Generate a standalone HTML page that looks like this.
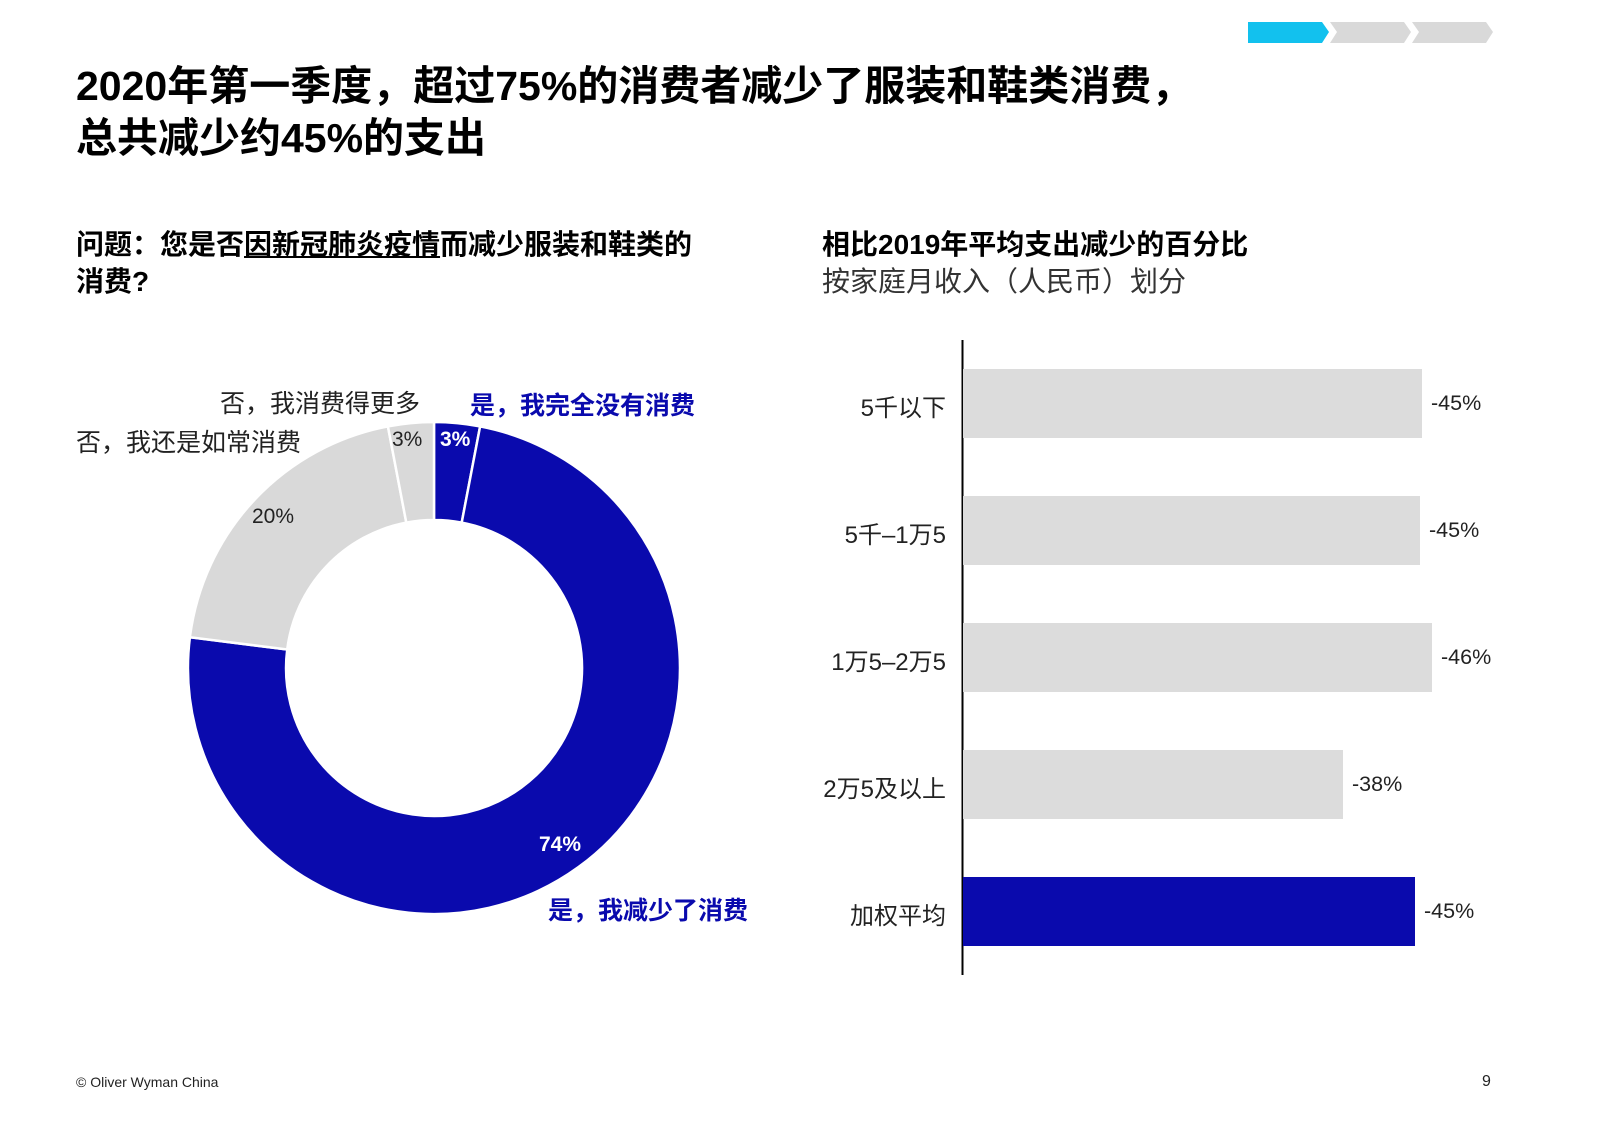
<!DOCTYPE html>
<html><head><meta charset="utf-8"><style>
body{margin:0;width:1600px;height:1143px;background:#fff;position:relative;overflow:hidden;font-family:"Liberation Sans","Noto Sans CJK SC",sans-serif;}
.t{position:absolute;white-space:nowrap;color:#000;}
</style></head><body>
<svg width="1600" height="1143" style="position:absolute;left:0;top:0">
<polygon points="1248,22 1322,22 1329,32 1322,43 1248,43" fill="#12c1ee"/>
<polygon points="1330,22 1404,22 1411,32 1404,43 1330,43 1337,32" fill="#d9d9d9"/>
<polygon points="1412,22 1486,22 1493,32 1486,43 1412,43 1419,32" fill="#d9d9d9"/>
<g stroke="#fff" stroke-width="2.5">
<path d="M434,422 A246,246 0 0 1 480.1,426.4 L461.7,522.6 A148,148 0 0 0 434,520 Z" fill="#0a0aad"/>
<path d="M480.1,426.4 A246,246 0 1 1 189.9,637.2 L287.2,649.5 A148,148 0 1 0 461.7,522.6 Z" fill="#0a0aad"/>
<path d="M189.9,637.2 A246,246 0 0 1 387.9,426.4 L406.3,522.6 A148,148 0 0 0 287.2,649.5 Z" fill="#d9d9d9"/>
<path d="M387.9,426.4 A246,246 0 0 1 434,422 L434,520 A148,148 0 0 0 406.3,522.6 Z" fill="#d9d9d9"/>
</g>
<line x1="962.5" y1="340" x2="962.5" y2="975" stroke="#000" stroke-width="2"/>
<rect x="963" y="369" width="459" height="69" fill="#dcdcdc"/>
<rect x="963" y="496" width="457" height="69" fill="#dcdcdc"/>
<rect x="963" y="623" width="469" height="69" fill="#dcdcdc"/>
<rect x="963" y="750" width="380" height="69" fill="#dcdcdc"/>
<rect x="963" y="877" width="452" height="69" fill="#0a0aad"/>
</svg>
<div class="t" style="left:76px;top:60px;font-size:41px;font-weight:bold;line-height:52px;">2020年第一季度，超过75%的消费者减少了服装和鞋类消费，<br>总共减少约45%的支出</div>
<div class="t" style="left:76px;top:226px;font-size:28px;font-weight:bold;line-height:37px;">问题：您是否<span style="text-decoration:underline">因新冠肺炎疫情</span>而减少服装和鞋类的<br>消费?</div>
<div class="t" style="left:822px;top:226px;font-size:28px;line-height:37px;"><b>相比2019年平均支出减少的百分比</b><br><span style="color:#333">按家庭月收入（人民币）划分</span></div>
<div class="t" style="left:220px;top:384px;font-size:25px;color:#222">否，我消费得更多</div>
<div class="t" style="left:76px;top:423px;font-size:25px;color:#222">否，我还是如常消费</div>
<div class="t" style="left:470px;top:386px;font-size:25px;font-weight:bold;color:#0a0aad">是，我完全没有消费</div>
<div class="t" style="left:548px;top:891px;font-size:25px;font-weight:bold;color:#0a0aad">是，我减少了消费</div>
<div class="t" style="left:392px;top:428px;font-size:21px;color:#222">3%</div>
<div class="t" style="left:440px;top:428px;font-size:21px;font-weight:bold;color:#fff">3%</div>
<div class="t" style="left:252px;top:505px;font-size:21px;color:#222">20%</div>
<div class="t" style="left:539px;top:833px;font-size:21px;font-weight:bold;color:#fff">74%</div>
<div class="t" style="right:654px;top:388px;font-size:24px;color:#222">5千以下</div>
<div class="t" style="right:654px;top:515px;font-size:24px;color:#222">5千–1万5</div>
<div class="t" style="right:654px;top:642px;font-size:24px;color:#222">1万5–2万5</div>
<div class="t" style="right:654px;top:769px;font-size:24px;color:#222">2万5及以上</div>
<div class="t" style="right:654px;top:896px;font-size:24px;color:#222">加权平均</div>
<div class="t" style="left:1431px;top:391px;font-size:21.5px;color:#222">-45%</div>
<div class="t" style="left:1429px;top:518px;font-size:21.5px;color:#222">-45%</div>
<div class="t" style="left:1441px;top:645px;font-size:21.5px;color:#222">-46%</div>
<div class="t" style="left:1352px;top:772px;font-size:21.5px;color:#222">-38%</div>
<div class="t" style="left:1424px;top:899px;font-size:21.5px;color:#222">-45%</div>
<div class="t" style="left:76px;top:1074px;font-size:14px;color:#222">© Oliver Wyman China</div>
<div class="t" style="left:1482px;top:1073px;font-size:16px;color:#222">9</div>
</body></html>
